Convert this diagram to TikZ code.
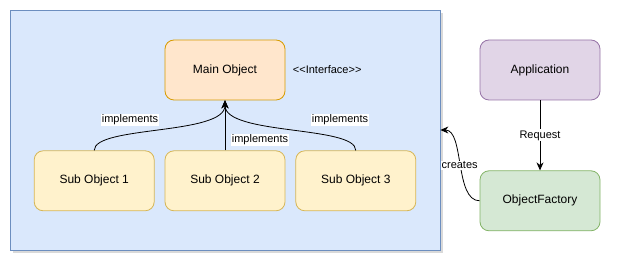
\documentclass[tikz,border=0pt]{standalone}
\usepackage{fontspec}
\setmainfont{Liberation Sans}
\usetikzlibrary{arrows.meta, positioning, shadows}
\definecolor{ctrfill}{HTML}{DAE8FC}
\definecolor{ctrline}{HTML}{6C8EBF}
\definecolor{mainfill}{HTML}{FFE6CC}
\definecolor{mainline}{HTML}{D79B00}
\definecolor{subfill}{HTML}{FFF2CC}
\definecolor{subline}{HTML}{D6B656}
\definecolor{appfill}{HTML}{E1D5E7}
\definecolor{appline}{HTML}{9673A6}
\definecolor{facfill}{HTML}{D5E8D4}
\definecolor{facline}{HTML}{82B366}

\begin{document}
\begin{tikzpicture}[x=1pt, y=-1pt,
    box/.style={rectangle, draw, line width=0.8pt, rounded corners=9pt,
                minimum width=120pt, minimum height=60pt,
                font=\fontsize{12}{14}\selectfont},
    mainbox/.style={box, fill=mainfill, draw=mainline},
    subbox/.style={box, fill=subfill, draw=subline},
    appbox/.style={box, fill=appfill, draw=appline},
    facbox/.style={box, fill=facfill, draw=facline},
    container/.style={rectangle, draw=ctrline, fill=ctrfill, line width=0.8pt,
                      minimum width=430pt, minimum height=240pt,
                      drop shadow={opacity=0.3, shadow xshift=3pt, shadow yshift=-3pt}},
    lbl/.style={fill=white, inner sep=1pt, font=\fontsize{11}{13}\selectfont},
    arrow/.style={-{Stealth[length=8pt, width=7pt]}, line width=0.8pt}
]
    \useasboundingbox (0,0) rectangle (622,272);

    \node[container] (ctr) at (225,130) {};

    \node[mainbox] (main) at (225,70) {Main Object};
    \node[right=4pt of main, font=\fontsize{11}{13}\selectfont] (iface) {{<}{<}Interface{>}{>}};
    \node[subbox, below=50pt of main] (sub2) {Sub Object 2};
    \node[subbox, left=10pt of sub2] (sub1) {Sub Object 1};
    \node[subbox, right=10pt of sub2] (sub3) {Sub Object 3};

    \node[appbox] (app) at (540,70) {Application};
    \node[facbox, below=70pt of app] (fac) {ObjectFactory};

    \draw[arrow] (sub1.north) .. controls +(0,-25) and +(0,35) .. (main.south);
    \draw[arrow] (sub2.north) -- (main.south);
    \draw[arrow] (sub3.north) .. controls +(0,-25) and +(0,35) .. (main.south);

    \node[lbl] (imp1) at (130,120) {implements};
    \node[lbl] (imp2) at (260,140) {implements};
    \node[lbl] (imp3) at (340,120) {implements};

    \draw[arrow] (app.south) -- node[lbl] (req) {Request} (fac.north);
    \draw[arrow] (fac.west) .. controls +(-25,0) and +(24,0) .. node[lbl] (crt) {creates} (ctr.east);
\end{tikzpicture}
\end{document}
